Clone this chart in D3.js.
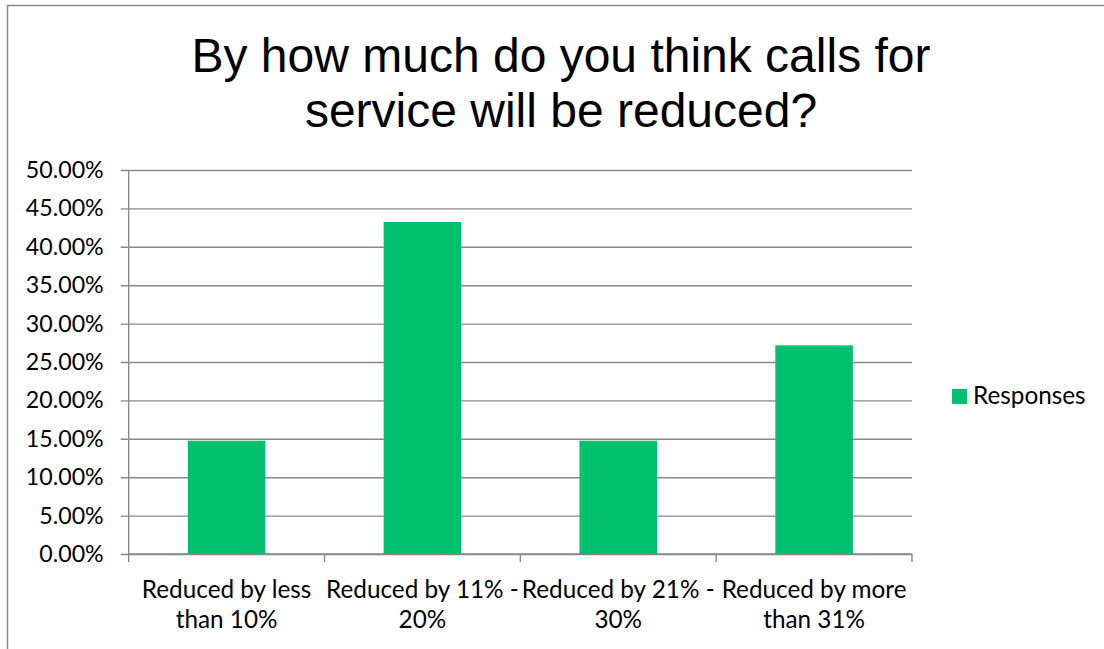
<!DOCTYPE html>
<html>
<head>
<meta charset="utf-8">
<script src="https://cdn.jsdelivr.net/npm/d3@7"></script>
<style>
  html, body { margin: 0; padding: 0; background: #fff; }
  svg { display: block; }
</style>
</head>
<body>
<svg id="chart" width="1104" height="649"></svg>
<script>
// Survey answers: share of responses per expected reduction band
const categories = [
  ["Reduced by less", "than 10%"],
  ["Reduced by 11% -", "20%"],
  ["Reduced by 21% -", "30%"],
  ["Reduced by more", "than 31%"]
];
const responses = [0.1475, 0.4323, 0.1475, 0.2717];
const yTicks = [0, 0.05, 0.10, 0.15, 0.20, 0.25, 0.30, 0.35, 0.40, 0.45, 0.50];
const seriesName = "Responses";
const titleLines = ["By how much do you think calls for", "service will be reduced?"];

const svg = d3.select("#chart");
const W = 1104, H = 649;
const plot = { left: 128.7, right: 912, top: 170, bottom: 554 };
const green = "#00bf6f";
const gridColor = "#898989";
const labelFont = "Lato, 'Open Sans', sans-serif";

// outer chart frame
svg.append("rect")
  .attr("x", 7.5).attr("y", 5.5)
  .attr("width", W + 20).attr("height", H + 20)
  .attr("fill", "#fff")
  .attr("stroke", "#8a8a8a").attr("stroke-width", 1.5);

// title
svg.append("text")
  .attr("x", 561).attr("y", 72)
  .attr("text-anchor", "middle")
  .attr("font-family", "'Liberation Sans', Arial, sans-serif")
  .attr("font-size", 48)
  .attr("fill", "#000")
  .selectAll("tspan").data(titleLines).join("tspan")
  .attr("x", 561).attr("dy", (d, i) => i === 0 ? 0 : 55)
  .text(d => d);

const x = d3.scaleBand()
  .domain(d3.range(categories.length))
  .range([plot.left, plot.right])
  .paddingInner(0.604)
  .paddingOuter(0.302);

const y = d3.scaleLinear()
  .domain([0, 0.5])
  .range([plot.bottom, plot.top]);

// horizontal gridlines with outward tick marks
const yAxis = d3.axisLeft(y)
  .tickValues(yTicks)
  .tickFormat(d3.format(".2%"))
  .tickSize(-(plot.right - plot.left))
  .tickPadding(25);

const gy = svg.append("g")
  .attr("transform", `translate(${plot.left},0)`)
  .call(yAxis);
gy.select(".domain").remove();
gy.selectAll(".tick line")
  .attr("x1", -8)
  .attr("stroke", gridColor).attr("stroke-width", 1.4);
gy.selectAll(".tick text")
  .attr("font-family", labelFont)
  .attr("font-size", 23.2)
  .attr("fill", "#000");

// vertical axis line
svg.append("line")
  .attr("x1", plot.left).attr("x2", plot.left)
  .attr("y1", plot.top).attr("y2", plot.bottom)
  .attr("stroke", gridColor).attr("stroke-width", 1.4);

// category axis with tick marks at band boundaries
const step = x.step();
const boundaries = d3.range(categories.length + 1).map(i => plot.left + i * step);
svg.append("g").selectAll("line").data(boundaries).join("line")
  .attr("x1", d => d).attr("x2", d => d)
  .attr("y1", plot.bottom).attr("y2", plot.bottom + 8)
  .attr("stroke", gridColor).attr("stroke-width", 1.4);
svg.append("line")
  .attr("x1", plot.left).attr("x2", plot.right)
  .attr("y1", plot.bottom).attr("y2", plot.bottom)
  .attr("stroke", gridColor).attr("stroke-width", 1.4);

// bars
svg.append("g").selectAll("rect").data(responses).join("rect")
  .attr("x", (d, i) => x(i))
  .attr("width", x.bandwidth())
  .attr("y", d => y(d))
  .attr("height", d => y(0) - y(d))
  .attr("fill", green);

// category labels (two lines each)
const cat = svg.append("g").selectAll("text").data(categories).join("text")
  .attr("text-anchor", "middle")
  .attr("font-family", labelFont)
  .attr("font-size", 24.3)
  .attr("fill", "#000");
cat.selectAll("tspan").data((d, i) => d.map(t => ({ t, i }))).join("tspan")
  .attr("x", d => x(d.i) + x.bandwidth() / 2)
  .attr("y", (d, j) => 598 + j * 30)
  .text(d => d.t);

// legend
const lg = svg.append("g").attr("transform", "translate(952,389)");
lg.append("rect").attr("width", 15).attr("height", 15).attr("fill", green);
lg.append("text")
  .attr("x", 21).attr("y", 15)
  .attr("font-family", labelFont)
  .attr("font-size", 24.3)
  .attr("fill", "#000")
  .text(seriesName);
</script>
</body>
</html>
